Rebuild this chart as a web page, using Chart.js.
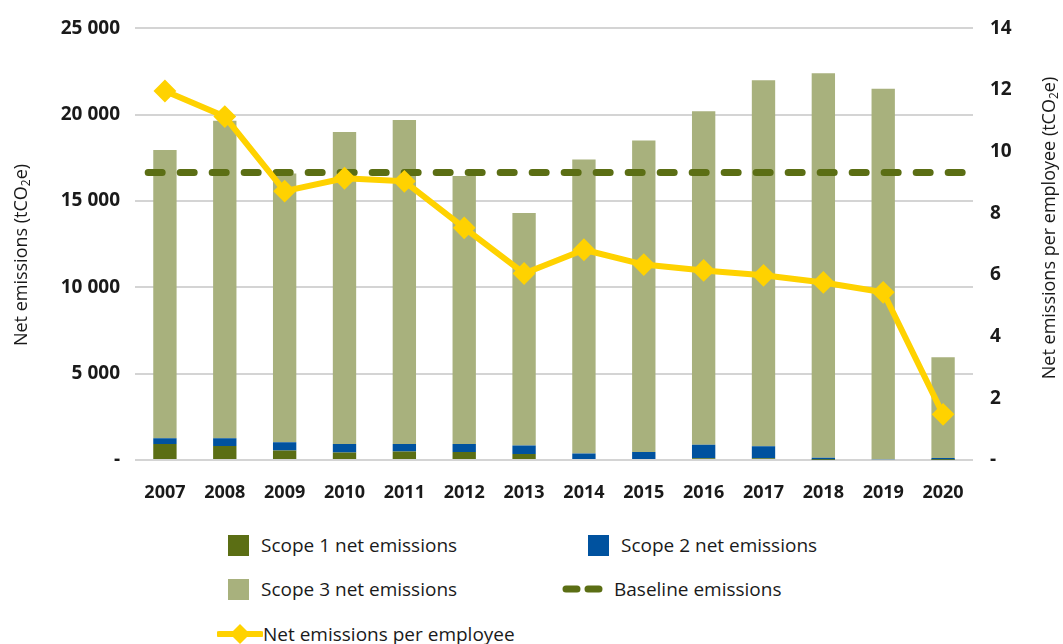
<!DOCTYPE html>
<html>
<head>
<meta charset="utf-8">
<script src="https://cdn.jsdelivr.net/npm/chart.js@4.4.1/dist/chart.umd.min.js"></script>
<style>
  body { margin: 0; background: #fff; font-family: "Open Sans", sans-serif; }
  #wrap { position: relative; width: 1063px; height: 644px; overflow: hidden; }
  #chart { position: absolute; left: 0; top: 0; }
  .lg { position: absolute; font-size: 19px; color: #1a1a1a; white-space: nowrap; display: flex; align-items: center; height: 24px; }
  .sw { display: inline-block; width: 21px; height: 21px; margin-right: 12px; }
</style>
</head>
<body>
<div id="wrap">
  <canvas id="chart" width="1063" height="515"></canvas>
  <div id="legend"></div>
</div>
<script>
// data
const years = ['2007','2008','2009','2010','2011','2012','2013','2014','2015','2016','2017','2018','2019','2020'];
const scope1 = [920, 805, 550, 440, 495, 460, 345, 60, 60, 100, 100, 20, 0, 20];
const scope2 = [345, 460, 485, 480, 425, 460, 495, 320, 400, 780, 700, 110, 50, 100];
const scope3 = [16685, 18385, 15565, 18080, 18780, 15530, 13460, 17020, 18040, 19320, 21200, 22270, 21450, 5830];
const perEmployee = [11.97, 11.14, 8.72, 9.14, 9.04, 7.53, 6.05, 6.82, 6.34, 6.15, 5.99, 5.76, 5.44, 1.48];
const baseline = 16650;
const baselineRange = [-0.28, 13.35]; // in category units, line runs past first/last bar

const leftTicks = [0, 5000, 10000, 15000, 20000, 25000];
const rightTicks = [0, 2, 4, 6, 8, 10, 12, 14];

const C = {
  s1: '#5B6E14',
  s2: '#00529F',
  s3: '#A8B17D',
  base: '#5B6E14',
  line: '#FFD200',
  grid: '#D4D4D4',
  text: '#1a1a1a'
};

function fmtK(v) {
  if (v === 0) return '-';
  return String(v).replace(/\B(?=(\d{3})+(?!\d))/g, ' ');
}

// axis titles with a real subscript, right one reads bottom-to-top like the left
const titlePlugin = {
  id: 'titles',
  afterDraw(chart) {
    const ctx = chart.ctx;
    const draw = (x, y, pre, sub, post) => {
      ctx.save();
      ctx.translate(x, y);
      ctx.rotate(-Math.PI / 2);
      ctx.fillStyle = C.text;
      ctx.textBaseline = 'middle';
      const big = '18px "Open Sans"', small = '12px "Open Sans"';
      ctx.font = big; const w1 = ctx.measureText(pre).width; const w3 = ctx.measureText(post).width;
      ctx.font = small; const w2 = ctx.measureText(sub).width;
      let cx = -(w1 + w2 + w3) / 2;
      ctx.font = big; ctx.textAlign = 'left';
      ctx.fillText(pre, cx, 0); cx += w1;
      ctx.font = small; ctx.fillText(sub, cx, 5); cx += w2;
      ctx.font = big; ctx.fillText(post, cx, 0);
      ctx.restore();
    };
    draw(22, 255, 'Net emissions (tCO', '2', 'e)');
    draw(1050, 228, 'Net emissions per employee (tCO', '2', 'e)');
  }
};

const chart = new Chart(document.getElementById('chart'), {
  data: {
    labels: years,
    datasets: [
      {
        type: 'line', label: 'Net emissions per employee', data: perEmployee, yAxisID: 'y1', xAxisID: 'x',
        borderColor: C.line, backgroundColor: C.line, borderWidth: 6, borderJoinStyle: 'round',
        pointStyle: 'rectRot', pointRadius: 10, pointBorderWidth: 2, pointBackgroundColor: C.line,
        pointBorderColor: C.line, order: 0, tension: 0
      },
      {
        type: 'line', label: 'Baseline emissions', xAxisID: 'xb', yAxisID: 'y', stack: 'base',
        data: baselineRange.map(x => ({ x, y: baseline })),
        borderColor: C.base, borderWidth: 7, borderDash: [14, 18], borderCapStyle: 'round',
        pointRadius: 0, order: 1
      },
      { type: 'bar', label: 'Scope 1 net emissions', data: scope1, backgroundColor: C.s1, order: 2, stack: 's', xAxisID: 'x', yAxisID: 'y' },
      { type: 'bar', label: 'Scope 2 net emissions', data: scope2, backgroundColor: C.s2, order: 3, stack: 's', xAxisID: 'x', yAxisID: 'y' },
      { type: 'bar', label: 'Scope 3 net emissions', data: scope3, backgroundColor: C.s3, order: 4, stack: 's', xAxisID: 'x', yAxisID: 'y' }
    ]
  },
  options: {
    responsive: false,
    animation: false,
    layout: { padding: { top: 25, left: 0, right: 0, bottom: 0 } },
    datasets: { bar: { barPercentage: 0.39, categoryPercentage: 1, grouped: false } },
    plugins: { legend: { display: false }, tooltip: { enabled: false } },
    scales: {
      x: {
        type: 'category', stacked: true, offset: true,
        grid: { display: false },
        border: { display: false },
        ticks: { color: C.text, font: { family: 'Open Sans', size: 18, weight: 'bold' }, padding: 14 },
        afterFit(s) { s.height = 55; }
      },
      xb: { type: 'linear', display: false, min: -0.5, max: 13.5 },
      y: {
        position: 'left', stacked: true, min: 0, max: 25000,
        afterBuildTicks(s) { s.ticks = leftTicks.map(v => ({ value: v })); },
        grid: { color: C.grid, lineWidth: 2, drawTicks: false },
        border: { display: false },
        ticks: { color: C.text, font: { family: 'Open Sans', size: 19, weight: 'bold' }, padding: 15, callback: fmtK },
        afterFit(s) { s.width = 135; }
      },
      y1: {
        position: 'right', min: 0, max: 14,
        afterBuildTicks(s) { s.ticks = rightTicks.map(v => ({ value: v })); },
        grid: { display: false, drawTicks: false },
        border: { display: false },
        ticks: { color: C.text, font: { family: 'Open Sans', size: 19, weight: 'bold' }, padding: 17, callback: v => v === 0 ? '-' : v },
        afterFit(s) { s.width = 90; }
      }
    }
  },
  plugins: [titlePlugin]
});

// html legend in the same 2-column layout as the reference
const legendEl = document.getElementById('legend');
const slots = [
  { label: 'Scope 1 net emissions', left: 228, top: 533 },
  { label: 'Scope 2 net emissions', left: 588, top: 533 },
  { label: 'Scope 3 net emissions', left: 228, top: 577 },
  { label: 'Baseline emissions', left: 560, top: 577 },
  { label: 'Net emissions per employee', left: 217, top: 622 }
];
slots.forEach(slot => {
  const ds = chart.data.datasets.find(d => d.label === slot.label);
  const item = document.createElement('div');
  item.className = 'lg';
  item.style.left = slot.left + 'px';
  item.style.top = slot.top + 'px';
  let mark;
  if (ds.type === 'bar') {
    mark = document.createElement('span');
    mark.className = 'sw';
    mark.style.background = ds.backgroundColor;
  } else {
    mark = document.createElement('canvas');
    mark.width = 46; mark.height = 24;
    const g = mark.getContext('2d');
    g.strokeStyle = ds.borderColor; g.lineWidth = ds.borderWidth; g.lineCap = 'round';
    if (ds.borderDash) {
      g.beginPath(); g.moveTo(6, 12); g.lineTo(17, 12); g.moveTo(28, 12); g.lineTo(39, 12); g.stroke();
    } else {
      g.beginPath(); g.moveTo(2, 12); g.lineTo(44, 12); g.stroke();
      g.fillStyle = ds.pointBackgroundColor;
      g.beginPath(); g.moveTo(23, 2); g.lineTo(33, 12); g.lineTo(23, 22); g.lineTo(13, 12); g.closePath(); g.fill();
    }
    mark.style.marginRight = ds.borderDash ? '8px' : '0px';
  }
  const txt = document.createElement('span');
  txt.textContent = slot.label;
  item.appendChild(mark);
  item.appendChild(txt);
  legendEl.appendChild(item);
});
</script>
</body>
</html>
